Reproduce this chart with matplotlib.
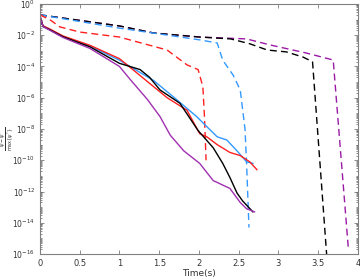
import numpy as np
import matplotlib
matplotlib.use("Agg")
import matplotlib.pyplot as plt
from matplotlib.ticker import LogLocator, NullFormatter, FixedLocator

# solid curves (time, log10 error)
blk_t = [0, 0.01, 0.04, 0.13, 0.29, 0.63, 1.0, 1.26, 1.38, 1.51, 1.76, 1.99, 2.18, 2.3, 2.39, 2.48, 2.55, 2.68]
blk_e = [-0.7, -1.0, -1.45, -1.67, -2.1, -2.75, -3.8, -4.2, -4.7, -5.5, -6.35, -8.1, -9.2, -10.2, -11.1, -12.1, -12.6, -13.3]

red_t = [0, 0.01, 0.04, 0.13, 0.29, 0.63, 1.0, 1.6, 1.85, 2.01, 2.1, 2.23, 2.39, 2.52, 2.64, 2.73]
red_e = [-0.7, -1.0, -1.4, -1.62, -2.05, -2.65, -3.5, -6.0, -6.8, -8.3, -8.5, -9.0, -9.5, -9.7, -10.1, -10.6]

blu_t = [0, 0.01, 0.04, 0.13, 0.29, 0.63, 1.0, 1.43, 1.68, 1.97, 2.23, 2.35, 2.48, 2.6, 2.68]
blu_e = [-0.7, -1.0, -1.45, -1.68, -2.1, -2.7, -3.6, -4.9, -5.95, -7.2, -8.5, -8.7, -9.4, -10.1, -10.2]

pur_t = [0, 0.01, 0.04, 0.13, 0.29, 0.63, 1.0, 1.13, 1.35, 1.51, 1.64, 1.81, 2.01, 2.18, 2.39, 2.52, 2.6, 2.7]
pur_e = [-0.7, -1.0, -1.45, -1.7, -2.15, -2.85, -4.0, -4.8, -6.1, -7.2, -8.4, -9.4, -10.2, -11.3, -11.8, -12.7, -13.1, -13.3]

# dashed curves
dpur_t = [0, 1.0, 1.43, 2.01, 2.6, 2.9, 3.35, 3.69, 3.88]
dpur_e = [-0.7, -1.41, -1.86, -2.12, -2.24, -2.63, -3.14, -3.59, -15.6]

dblk_t = [0, 1.0, 1.43, 2.01, 2.4, 2.64, 2.86, 3.1, 3.31, 3.43, 3.61]
dblk_e = [-0.7, -1.41, -1.86, -2.12, -2.24, -2.55, -2.95, -3.07, -3.4, -3.7, -16.2]

dblu_t = [0, 1.0, 2.01, 2.23, 2.3, 2.43, 2.52, 2.58, 2.6, 2.63]
dblu_e = [-0.7, -1.55, -2.3, -2.5, -3.6, -4.55, -5.5, -8.0, -10.2, -14.3]

dred_t = [0, 0.13, 0.25, 0.5, 1.0, 1.6, 1.85, 1.99, 2.05, 2.07, 2.09]
dred_e = [-0.7, -1.03, -1.47, -1.8, -2.12, -2.95, -3.9, -4.2, -5.3, -7.2, -10.0]

c_blue = "#3399ff"
c_red = "#ff2020"
c_purp = "#a030b0"
c_dpurp = "#9a1aa6"

fig = plt.figure(figsize=(3.6, 2.78), dpi=100)
ax = fig.add_axes([0.111, 0.086, 0.883, 0.9])

def p(t, e, **kw):
    ax.semilogy(t, 10.0 ** np.array(e), **kw)

lw = 1.0
dash = (0, (5, 3))
p(dpur_t, dpur_e, color=c_dpurp, ls=dash, lw=lw)
p(dblk_t, dblk_e, color="black", ls=dash, lw=lw)
p(dblu_t, dblu_e, color=c_blue, ls=dash, lw=lw)
p(dred_t, dred_e, color=c_red, ls=dash, lw=lw)
p(blu_t, blu_e, color=c_blue, lw=lw)
p(red_t, red_e, color=c_red, lw=lw)
p(blk_t, blk_e, color="black", lw=lw)
p(pur_t, pur_e, color=c_purp, lw=lw)

ax.set_xlim(0, 4)
ax.set_ylim(1e-16, 1)
ax.set_xticks([0, 0.5, 1, 1.5, 2, 2.5, 3, 3.5, 4])
ax.set_xticklabels(["0", "0.5", "1", "1.5", "2", "2.5", "3", "3.5", "4"])
ax.yaxis.set_major_locator(FixedLocator([10.0 ** k for k in range(-16, 1, 2)]))
ax.yaxis.set_minor_locator(LogLocator(base=10, subs=np.arange(1, 10), numticks=40))
ax.yaxis.set_minor_formatter(NullFormatter())

for s in ax.spines.values():
    s.set_color("#808080")
    s.set_linewidth(0.8)
ax.tick_params(which="both", direction="in", top=True, right=True, colors="#606060",
               labelcolor="#333333", labelsize=6, width=0.5)
ax.tick_params(axis="y", labelsize=5.5)
ax.tick_params(which="major", length=3)
ax.tick_params(which="minor", length=1.5)

ax.set_xlabel("Time(s)", fontsize=6.5, color="#333333", labelpad=1)
ax.set_ylabel(r"$\frac{\psi-\psi^{*}}{\max\{\psi^{*}\}}$", fontsize=5, color="#333333")
ax.yaxis.set_label_coords(-0.074, 0.46)

fig.savefig("out.png", dpi=100)
